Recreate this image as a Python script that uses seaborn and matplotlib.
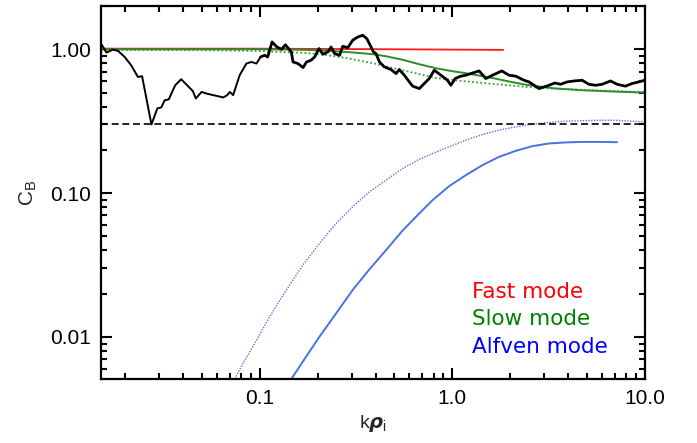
import numpy as np
import pandas as pd
import matplotlib
matplotlib.use("Agg")
import matplotlib.pyplot as plt
import seaborn as sns
from matplotlib.ticker import FixedLocator, NullFormatter

# ---------------- data ----------------
# measured C_B (black noisy curve)
obs_k = [0.0150, 0.0160, 0.0173, 0.0184, 0.0199, 0.0215, 0.0233, 0.0245, 0.0274,
         0.0294, 0.0308, 0.0321, 0.0337, 0.0364, 0.0391, 0.0420, 0.0450, 0.0466,
         0.0499, 0.0530, 0.0573, 0.0608, 0.0646, 0.0678, 0.0700, 0.0728, 0.0787,
         0.0853, 0.0906, 0.0962, 0.101, 0.106, 0.110, 0.116, 0.123, 0.130, 0.136,
         0.146, 0.149, 0.158, 0.168, 0.175, 0.185, 0.193, 0.203, 0.213, 0.226,
         0.235, 0.245, 0.260, 0.270, 0.287, 0.304, 0.323, 0.343, 0.360, 0.375,
         0.390, 0.402, 0.419, 0.444, 0.481, 0.511, 0.531, 0.564, 0.599, 0.623,
         0.675, 0.716, 0.760, 0.807, 0.874, 0.945, 0.985, 1.036, 1.109, 1.178,
         1.275, 1.380, 1.495, 1.618, 1.810, 1.974, 2.138, 2.361, 2.506, 2.824,
         2.997, 3.181, 3.418, 3.658, 3.957, 4.287, 4.733, 5.126, 5.553, 6.009,
         6.643, 7.186, 7.943, 8.597, 9.309, 10.0]
obs_cb = [1.095, 0.949, 0.995, 0.973, 0.884, 0.774, 0.642, 0.650, 0.300,
          0.388, 0.394, 0.442, 0.448, 0.562, 0.619, 0.562, 0.511, 0.455,
          0.505, 0.492, 0.480, 0.472, 0.462, 0.480, 0.505, 0.480, 0.660,
          0.796, 0.816, 0.796, 0.884, 0.908, 0.884, 1.124, 1.037, 1.000, 1.075,
          0.958, 0.816, 0.796, 0.746, 0.816, 0.839, 0.884, 1.011, 0.923, 0.958,
          1.037, 0.933, 0.908, 1.049, 1.027, 1.155, 1.217, 1.251, 1.187, 1.066,
          0.958, 0.933, 0.816, 0.754, 0.723, 0.678, 0.723, 0.660, 0.593, 0.554,
          0.533, 0.578, 0.626, 0.715, 0.660, 0.609, 0.562, 0.626, 0.650, 0.660,
          0.684, 0.707, 0.626, 0.660, 0.707, 0.660, 0.650, 0.609, 0.593, 0.533,
          0.547, 0.562, 0.583, 0.571, 0.593, 0.602, 0.609, 0.571, 0.562, 0.571,
          0.602, 0.571, 0.554, 0.578, 0.593, 0.609]

# fast mode (red)
fast_k = [0.015, 0.1, 0.5, 1.0, 1.84]
fast_cb = [1.01, 1.01, 1.0, 0.995, 0.99]

# slow mode (green, solid and dotted)
slow_k = [0.015, 0.1, 0.15, 0.2, 0.26, 0.32, 0.39, 0.4535, 0.553, 0.675, 0.824,
          1.0, 1.153, 1.611, 2.0, 2.409, 3.377, 4.717, 7.047, 10.0]
slow_cb = [1.0, 1.0, 0.995, 0.985, 0.965, 0.945, 0.923, 0.894, 0.845, 0.787, 0.738,
           0.704, 0.685, 0.632, 0.595, 0.567, 0.535, 0.519, 0.508, 0.500]
slow2_k = [0.015, 0.05, 0.1, 0.127, 0.17, 0.212, 0.281, 0.394, 0.553, 0.824, 1.087,
           1.611, 2.409, 3.377, 5.78, 10.0]
slow2_cb = [0.99, 0.985, 0.973, 0.958, 0.945, 0.92, 0.87, 0.796, 0.715, 0.632, 0.605,
            0.575, 0.548, 0.533, 0.517, 0.503]

# Alfven mode (blue, solid and dotted)
alf_k = [0.146, 0.1676, 0.2046, 0.2497, 0.304, 0.3715, 0.4535, 0.553, 0.675, 0.791,
         0.965, 1.178, 1.436, 1.752, 2.138, 2.607, 3.181, 3.882, 4.733, 5.776, 7.186]
alf_cb = [0.0051, 0.00674, 0.01005, 0.0146, 0.0212, 0.0295, 0.0402, 0.0550, 0.0723,
          0.0894, 0.1118, 0.1334, 0.1565, 0.1787, 0.1967, 0.212, 0.2214, 0.225,
          0.227, 0.227, 0.226]
alf2_k = [0.0742, 0.0819, 0.0923, 0.1127, 0.1375, 0.1676, 0.2046, 0.2497, 0.304,
          0.3715, 0.4535, 0.553, 0.675, 0.791, 0.965, 1.178, 1.436, 1.752, 2.138,
          2.607, 3.181, 3.882, 5.776, 7.047, 10.0]
alf2_cb = [0.0051, 0.00656, 0.00857, 0.01384, 0.0212, 0.0316, 0.0448, 0.0616, 0.0803,
           0.1021, 0.1231, 0.1484, 0.172, 0.1887, 0.2099, 0.2334, 0.2555, 0.274,
           0.2888, 0.3014, 0.3097, 0.3162, 0.321, 0.321, 0.3127]

threshold = 0.3

x_ticks = [0.1, 1.0, 10.0]
x_labels = ["0.1", "1.0", "10.0"]
y_ticks = [0.01, 0.1, 1.0]
y_labels = ["0.01", "0.10", "1.00"]

legend_names = ["Fast mode", "Slow mode", "Alfven mode"]
legend_colors = ["#ff0000", "#008000", "#0000ff"]

# ---------------- plotting ----------------
sns.set_style("ticks")
plt.rcParams["font.family"] = ["Liberation Sans", "DejaVu Sans"]
plt.rcParams["mathtext.fontset"] = "dejavusans"

fig = plt.figure(figsize=(6.97, 4.43), dpi=100)
ax = fig.add_axes([0.145, 0.1445, 0.78, 0.842])

ax.set_xscale("log")
ax.set_yscale("log")

c_red = "#ff1a1a"
c_green = "#2e8b2e"
c_green2 = "#3aa23a"
c_blue = "#4a72e0"
c_blue2 = "#6a6ae0"

sns.lineplot(x=fast_k, y=fast_cb, ax=ax, color=c_red, lw=1.3, estimator=None, sort=False)
sns.lineplot(x=slow2_k, y=slow2_cb, ax=ax, color=c_green2, lw=1.3, linestyle=(0, (1, 1.3)),
             estimator=None, sort=False)
sns.lineplot(x=slow_k, y=slow_cb, ax=ax, color=c_green, lw=1.4, estimator=None, sort=False)
sns.lineplot(x=alf2_k, y=alf2_cb, ax=ax, color=c_blue2, lw=1.0, linestyle=(0, (1, 1.0)),
             estimator=None, sort=False)
sns.lineplot(x=alf_k, y=alf_cb, ax=ax, color=c_blue, lw=1.4, estimator=None, sort=False)

split = 30
sns.lineplot(x=obs_k[:split + 1], y=obs_cb[:split + 1], ax=ax, color="black", lw=1.4,
             estimator=None, sort=False)
sns.lineplot(x=obs_k[split:], y=obs_cb[split:], ax=ax, color="black", lw=2.0,
             estimator=None, sort=False)

ax.axhline(threshold, color="black", lw=1.2, linestyle=(0, (4.2, 2.2)))

ax.set_xlim(0.015, 10.0)
ax.set_ylim(0.0051, 2.0)

ax.xaxis.set_major_locator(FixedLocator(x_ticks))
ax.set_xticklabels(x_labels)
ax.yaxis.set_major_locator(FixedLocator(y_ticks))
ax.set_yticklabels(y_labels)
ax.xaxis.set_minor_formatter(NullFormatter())
ax.yaxis.set_minor_formatter(NullFormatter())

ax.tick_params(which="both", direction="in", top=True, right=True, width=1.5,
               labelsize=15, colors="black")
ax.tick_params(which="major", length=8, pad=7)
ax.tick_params(which="minor", length=4.5)
for s in ax.spines.values():
    s.set_linewidth(1.6)
    s.set_color("black")

ax.set_xlabel(r"k$\boldsymbol{\rho}_\mathregular{i}$", fontsize=14, labelpad=4)
ax.set_ylabel(r"C$_\mathregular{B}$", fontsize=15, labelpad=8)

for i, (name, col) in enumerate(zip(legend_names, legend_colors)):
    ax.text(0.682, 0.218 - i * 0.0745, name, color=col, fontsize=15.5,
            family="DejaVu Sans", transform=ax.transAxes, va="baseline", ha="left")

fig.savefig("out.png", dpi=100)
